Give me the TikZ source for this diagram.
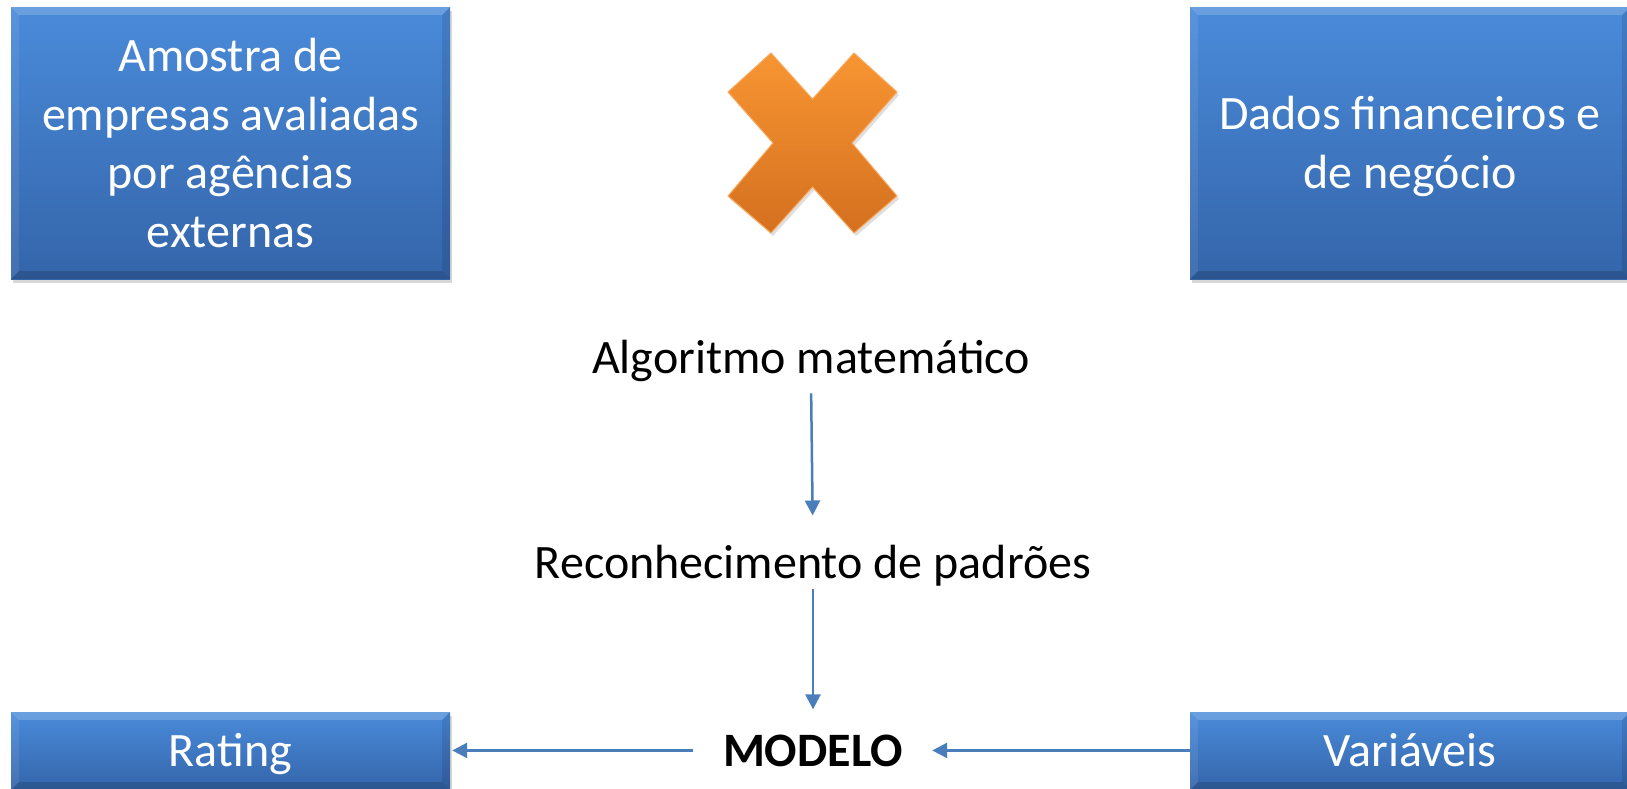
\documentclass[tikz,border=0pt]{standalone}
\usepackage{fontspec}
\setmainfont{Carlito}
\usetikzlibrary{arrows.meta,shadows,calc}
\definecolor{boxtop}{HTML}{4A8BDA}
\definecolor{boxbot}{HTML}{3465AA}
\definecolor{arrowc}{HTML}{4A7EBB}
\definecolor{xtop}{HTML}{F89532}
\definecolor{xbot}{HTML}{D4701F}
\definecolor{xedge}{HTML}{FAAA5E}
\tikzset{
  bluebox/.style={rectangle, top color=boxtop, bottom color=boxbot, draw=none,
    text=white, font=\fontsize{48}{58.5}\selectfont, align=center, inner sep=0pt,
    drop shadow={shadow xshift=2pt,shadow yshift=-4pt,opacity=0.3}},
  lbl/.style={font=\fontsize{48}{57}\selectfont, inner sep=0pt},
  arr/.style={draw=arrowc, line width=2.5pt, -{Triangle[width=15pt,length=15pt]}},
}
\newcommand\bevelit[1]{%
  \fill[white,opacity=0.18] (#1.north west) -- (#1.north east) -- ([xshift=-8pt,yshift=-8pt]#1.north east) -- ([xshift=8pt,yshift=-8pt]#1.north west) -- cycle;
  \fill[white,opacity=0.08] (#1.north west) -- ([xshift=8pt,yshift=-8pt]#1.north west) -- ([xshift=8pt,yshift=8pt]#1.south west) -- (#1.south west) -- cycle;
  \fill[black,opacity=0.15] (#1.south west) -- ([xshift=8pt,yshift=8pt]#1.south west) -- ([xshift=-8pt,yshift=8pt]#1.south east) -- (#1.south east) -- cycle;
  \fill[black,opacity=0.10] (#1.north east) -- ([xshift=-8pt,yshift=-8pt]#1.north east) -- ([xshift=-8pt,yshift=8pt]#1.south east) -- (#1.south east) -- cycle;}
\begin{document}
\begin{tikzpicture}[x=1pt,y=-1pt]
\useasboundingbox (0,0) rectangle (1627,788);
\clip (0,0) rectangle (1627,788);
\fill[white] (0,0) rectangle (1627,788);
% boxes
\node[bluebox, minimum width=439pt, minimum height=272pt] (amostra) at (230.5,143)
  {Amostra de\\empresas avaliadas\\por agências\\externas};
\node[bluebox, minimum width=440pt, minimum height=272pt, text height=94.5pt, text depth=4.5pt] (dados) at (1410,143)
  {Dados financeiros e\\de negócio};
\node[bluebox, minimum width=439pt, minimum height=78pt, text height=36pt, text depth=6pt] (rating) at (230.5,751) {Rating};
\node[bluebox, minimum width=440pt, minimum height=78pt, text height=36pt, text depth=6pt] (var) at (1410,751) {Variáveis};
\bevelit{amostra}\bevelit{dados}\bevelit{rating}\bevelit{var}
% X shape
\path[top color=xtop, bottom color=xbot, draw=xedge, line width=1pt,
  drop shadow={shadow xshift=2pt,shadow yshift=-3pt,opacity=0.25}]
  (771,53) -- (812.5,99) -- (854,53) -- (897,92) -- (852,143) -- (897,196)
  -- (854,233) -- (812.5,187) -- (771,233) -- (728,196) -- (773,143) -- (728,92) -- cycle;
% labels
\node[lbl, anchor=base] (alg) at (811,373) {Algoritmo matemático};
\node[lbl, anchor=base] (rec) at (813,578) {Reconhecimento de padrões};
\node[lbl, anchor=base, font=\fontsize{48}{57}\selectfont\bfseries] (modelo) at (813,766) {MODELO};
% arrows
\draw[arr, shorten <=12pt, shorten >=29pt] (alg.south) -- (rec.north);
\draw[arr, shorten <=3pt, shorten >=25pt] (rec.south) -- (rec.south |- modelo.north);
\draw[arr, shorten <=30pt, shorten >=2pt] (modelo.west) -- (modelo.west -| rating.east);
\draw[arr, shorten >=29pt] (var.west |- modelo.east) -- (modelo.east);
\end{tikzpicture}
\end{document}
